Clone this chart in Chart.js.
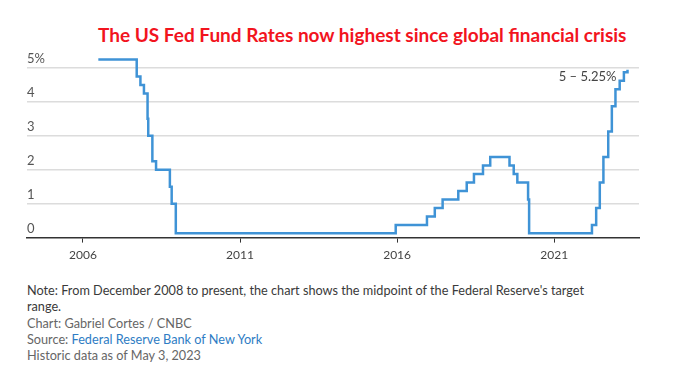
<!DOCTYPE html>
<html>
<head>
<meta charset="utf-8">
<script src="https://cdn.jsdelivr.net/npm/chart.js@4.4.0/dist/chart.umd.min.js"></script>
<style>
  html, body { margin: 0; padding: 0; background: #fff; }
  body { width: 693px; height: 378px; position: relative; overflow: hidden; font-family: Lato, sans-serif; }
  #title {
    position: absolute; left: 98px; top: 24px; margin: 0;
    font: bold 19px Lato, sans-serif; line-height: 22px; color: #f2141e; white-space: nowrap;
  }
  #chartBox { position: absolute; left: 0; top: 0; width: 693px; height: 267px; }
  #notes {
    position: absolute; left: 27px; top: 282px;
    font-size: 12.7px; line-height: 16.3px; color: #666;
  }
  #notes .note { color: #3a3a3a; }
  #notes a { color: #2e7cc4; text-decoration: none; }
</style>
</head>
<body>
<h1 id="title">The US Fed Fund Rates now highest since global financial crisis</h1>
<div id="chartBox"><canvas id="rateChart"></canvas></div>
<div id="notes">
  <div class="note">Note: From December 2008 to present, the chart shows the midpoint of the Federal Reserve's target<br>range.</div>
  <div>Chart: Gabriel Cortes / CNBC</div>
  <div>Source: <a>Federal Reserve Bank of New York</a></div>
  <div>Historic data as of May 3, 2023</div>
</div>
<script>
// dates of each rate change and the rate (%) from that date on
const changeDates = [
  '2006-06-29', '2007-09-18', '2007-10-31', '2007-12-11', '2008-01-22', '2008-01-30',
  '2008-03-18', '2008-04-30', '2008-10-08', '2008-10-29', '2008-12-16',
  '2015-12-16', '2016-12-14', '2017-03-15', '2017-06-14', '2017-12-13',
  '2018-03-21', '2018-06-13', '2018-09-26', '2018-12-19',
  '2019-07-31', '2019-09-18', '2019-10-30', '2020-03-03', '2020-03-15',
  '2022-03-16', '2022-05-04', '2022-06-15', '2022-07-27', '2022-09-21',
  '2022-11-02', '2022-12-14', '2023-02-01', '2023-03-22', '2023-05-03'
];
const rates = [
  5.25, 4.75, 4.5, 4.25, 3.5, 3.0,
  2.25, 2.0, 1.5, 1.0, 0.125,
  0.375, 0.625, 0.875, 1.125, 1.375,
  1.625, 1.875, 2.125, 2.375,
  2.125, 1.875, 1.625, 1.125, 0.125,
  0.375, 0.875, 1.625, 2.375, 3.125,
  3.875, 4.375, 4.625, 4.875, 4.95
];
const xTickYears = [2006, 2011, 2016, 2021];
const yTickValues = [0, 1, 2, 3, 4, 5];
const rangeText = '5 \u2013 5.25%';

function toYear(s) {
  const d = new Date(s + 'T00:00:00Z');
  const y = d.getUTCFullYear();
  const start = Date.UTC(y, 0, 1);
  const end = Date.UTC(y + 1, 0, 1);
  return y + (d.getTime() - start) / (end - start);
}

const points = changeDates.map((d, i) => ({ x: toYear(d), y: rates[i] }));

// "5 – 5.25%" label next to the end of the line
const rangeLabel = {
  id: 'rangeLabel',
  afterDatasetsDraw(chart) {
    const { ctx, scales } = chart;
    const last = points[points.length - 1];
    ctx.save();
    ctx.font = '13px Lato, sans-serif';
    ctx.fillStyle = '#444';
    ctx.textAlign = 'right';
    ctx.textBaseline = 'middle';
    ctx.fillText(rangeText, scales.x.getPixelForValue(last.x) - 11, scales.y.getPixelForValue(4.73));
    ctx.restore();
  }
};

const ctx = document.getElementById('rateChart').getContext('2d');
new Chart(ctx, {
  type: 'line',
  data: {
    datasets: [{
      data: points,
      stepped: 'before',
      borderColor: '#3f93d6',
      borderWidth: 2.5,
      pointRadius: 0,
      fill: false
    }]
  },
  options: {
    responsive: true,
    maintainAspectRatio: false,
    animation: false,
    layout: { padding: { left: 27, right: 54, top: 51, bottom: 0 } },
    plugins: {
      legend: { display: false },
      tooltip: { enabled: false }
    },
    scales: {
      x: {
        type: 'linear',
        min: 2004.22,
        max: 2023.7,
        afterBuildTicks: scale => { scale.ticks = xTickYears.map(v => ({ value: v })); },
        grid: { drawOnChartArea: false, drawTicks: true, tickLength: 5, color: '#333', lineWidth: 1 },
        border: { color: '#333', width: 1.5 },
        ticks: {
          padding: 5,
          color: '#444',
          font: { family: 'Lato', size: 12 },
          callback: v => String(v)
        }
      },
      y: {
        min: 0,
        max: 5.5,
        afterBuildTicks: scale => { scale.ticks = yTickValues.map(v => ({ value: v })); },
        grid: {
          color: c => c.tick && c.tick.value === 0 ? 'rgba(0,0,0,0)' : '#dcdcdc',
          lineWidth: 1.5,
          drawTicks: false
        },
        border: { display: false },
        ticks: {
          mirror: true,
          padding: 0,
          labelOffset: -9,
          color: '#555',
          font: { family: 'Lato', size: 13 },
          callback: v => v === 5 ? '5%' : String(v)
        }
      }
    }
  },
  plugins: [rangeLabel]
});
</script>
</body>
</html>
